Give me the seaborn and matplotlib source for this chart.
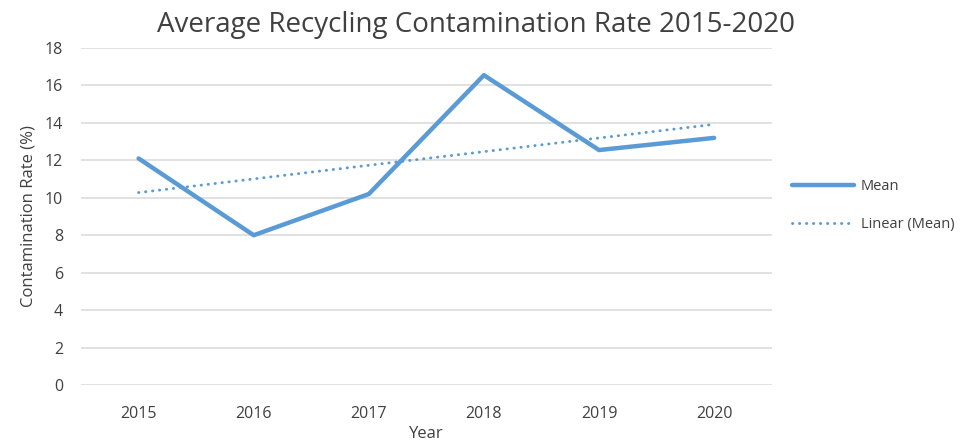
import numpy as np
import pandas as pd
import matplotlib.pyplot as plt
import seaborn as sns

# data
years = ["2015", "2016", "2017", "2018", "2019", "2020"]
mean_rate = [12.1, 8.0, 10.2, 16.55, 12.55, 13.2]

df = pd.DataFrame({"Year": years, "Mean": mean_rate})
df["pos"] = np.arange(len(years))

# excel style linear trendline from the mean series
slope, intercept = np.polyfit(df["pos"], df["Mean"], 1)
df["Linear (Mean)"] = slope * df["pos"] + intercept

sns.set_theme(style="white")
plt.rcParams["font.family"] = ["Open Sans", "DejaVu Sans"]

blue = "#5B9BD5"
text_col = "#404040"

fig = plt.figure(figsize=(9.67, 4.47), dpi=100)
ax = fig.add_axes([0.0838, 0.1387, 0.7142, 0.7539])

sns.lineplot(data=df, x="pos", y="Mean", ax=ax, color=blue, linewidth=3.2,
             label="Mean", solid_capstyle="round")
sns.lineplot(data=df, x="pos", y="Linear (Mean)", ax=ax, color=blue, linewidth=2.1,
             linestyle=(0, (0.1, 2.3)), label="Linear (Mean)", dash_capstyle="round")

ax.set_xlim(-0.5, len(years) - 0.5)
ax.set_ylim(0, 18)
ax.set_yticks(range(0, 19, 2))
ax.set_xticks(df["pos"])
ax.set_xticklabels(years)
ax.yaxis.grid(True, color="#D9D9D9", linewidth=1.1)
ax.set_axisbelow(True)
for s in ax.spines.values():
    s.set_visible(False)
ax.tick_params(axis="both", length=0, labelsize=11.5, labelcolor=text_col)
ax.tick_params(axis="x", pad=15)
ax.tick_params(axis="y", pad=13)

ax.set_xlabel("Year", fontsize=12, color=text_col, labelpad=3)
ax.set_ylabel("Contamination Rate (%)", fontsize=12, color=text_col, labelpad=6)
fig.suptitle("Average Recycling Contamination Rate 2015-2020", fontsize=20,
             color=text_col, x=0.492, y=0.975)

ax.get_legend().remove()
handles, labels = ax.get_legend_handles_labels()
fig.legend(handles, labels, loc="center left", bbox_to_anchor=(0.805, 0.54),
           frameon=False, fontsize=10.5, labelcolor=text_col, handlelength=4.25,
           labelspacing=1.6, handletextpad=0.5)

plt.savefig("out.png", dpi=100)
